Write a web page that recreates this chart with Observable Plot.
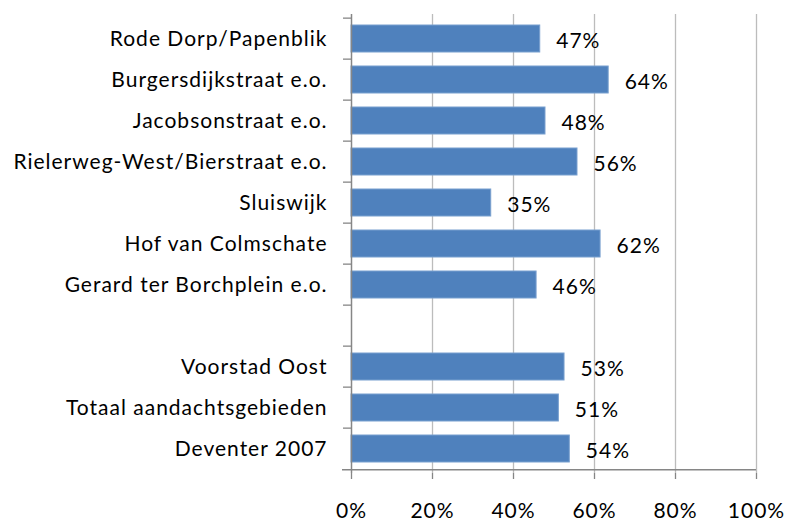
<!DOCTYPE html>
<html>
<head>
<meta charset="utf-8">
<script src="https://cdn.jsdelivr.net/npm/d3@7"></script>
<script src="https://cdn.jsdelivr.net/npm/@observablehq/plot@0.6"></script>
<style>
  body { margin: 0; background: #fff; }
</style>
</head>
<body>
<div id="chart"></div>
<script>
// Areas (top to bottom); a blank slot separates the two groups
const areas = [
  "Rode Dorp/Papenblik",
  "Burgersdijkstraat e.o.",
  "Jacobsonstraat e.o.",
  "Rielerweg-West/Bierstraat e.o.",
  "Sluiswijk",
  "Hof van Colmschate",
  "Gerard ter Borchplein e.o."
];
const totals = [
  "Voorstad Oost",
  "Totaal aandachtsgebieden",
  "Deventer 2007"
];
const areaValues = [46.6, 63.5, 47.9, 55.8, 34.5, 61.5, 45.7];
const totalValues = [52.6, 51.2, 53.9];
const areaLabels = ["47%", "64%", "48%", "56%", "35%", "62%", "46%"];
const totalLabels = ["53%", "51%", "54%"];
const xTicks = [0, 20, 40, 60, 80, 100];

const gap = " ";
const domain = [...areas, gap, ...totals];
const data = [
  ...areas.map((name, i) => ({name, value: areaValues[i], label: areaLabels[i]})),
  ...totals.map((name, i) => ({name, value: totalValues[i], label: totalLabels[i]}))
];

const W = 788, H = 523;
const mTop = 14, mBottom = 50, mLeft = 351, mRight = 32;
const step = (H - mTop - mBottom) / domain.length;
const axisColor = "#868686";

const chart = Plot.plot({
  width: W,
  height: H,
  marginTop: mTop,
  marginBottom: mBottom,
  marginLeft: mLeft,
  marginRight: mRight,
  style: {fontFamily: "Lato, sans-serif", fontSize: "21px", letterSpacing: "1px", color: "#000", background: "#fff"},
  x: {domain: [0, 100], label: null},
  y: {domain, paddingInner: 0.35, paddingOuter: 0.175, label: null},
  marks: [
    Plot.gridX({ticks: xTicks.slice(1), stroke: "#bcbcbc", strokeOpacity: 1, strokeWidth: 1.3}),
    Plot.barX(data, {x: "value", y: "name", fill: "#4F81BD", stroke: "#79A0CF", strokeWidth: 1}),
    Plot.ruleX([0], {stroke: axisColor, strokeWidth: 1.5}),
    Plot.ruleY(domain, {y: d => d, x1: 0, x2: 0, insetLeft: -8, dy: -step / 2, stroke: axisColor, strokeWidth: 1.3}),
    Plot.ruleY([domain[domain.length - 1]], {y: d => d, x1: 0, x2: 100, insetLeft: -9, dy: step / 2, stroke: axisColor, strokeWidth: 1.5}),
    Plot.axisX({ticks: xTicks, tickFormat: d => d + "%", tickSize: 6, tickPadding: 24, stroke: axisColor, strokeWidth: 1.3, fontSize: 21, fill: "#000", label: null}),
    Plot.axisY({tickSize: 0, tickPadding: 24, fontSize: 21, fill: "#000", tickFormat: d => d, label: null}),
    Plot.text(data, {x: "value", y: "name", text: "label", textAnchor: "start", dx: 16, dy: 2, fontSize: 21, fill: "#000"})
  ]
});
document.getElementById("chart").append(chart);
</script>
</body>
</html>
